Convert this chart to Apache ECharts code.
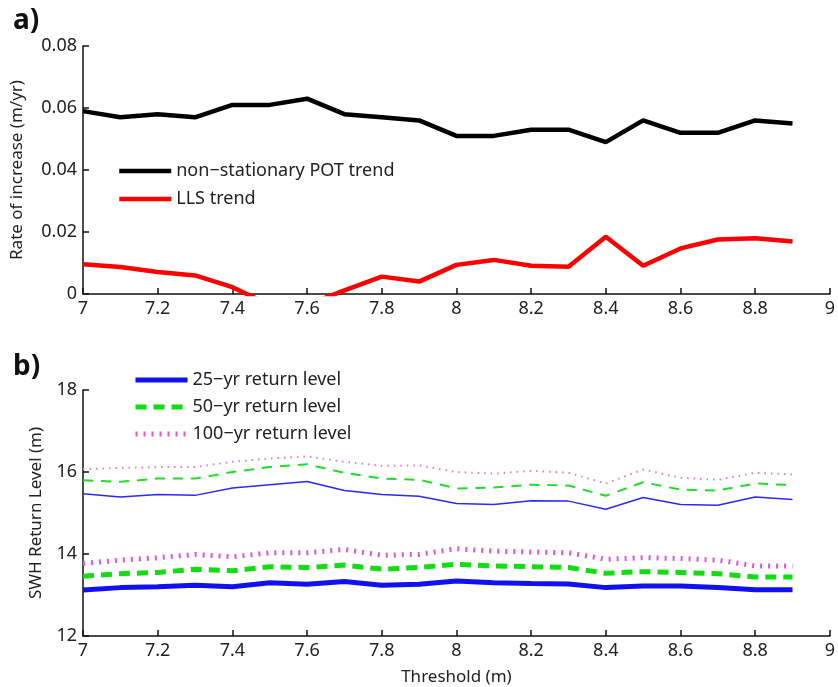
<!DOCTYPE html>
<html>
<head>
<meta charset="utf-8">
<script src="https://cdn.jsdelivr.net/npm/echarts@6/dist/echarts.min.js"></script>
<style>
  html, body { margin: 0; padding: 0; background: #fff; }
  #chart { width: 838px; height: 687px; }
</style>
</head>
<body>
<div id="chart"></div>
<script>
// thresholds (m)
const thresholds = [7.0, 7.1, 7.2, 7.3, 7.4, 7.5, 7.6, 7.7, 7.8, 7.9, 8.0, 8.1, 8.2, 8.3, 8.4, 8.5, 8.6, 8.7, 8.8, 8.9];

// panel a: rate of increase (m/yr)
const potTrend = [0.059, 0.057, 0.058, 0.057, 0.061, 0.061, 0.063, 0.058, 0.057, 0.056, 0.051, 0.051, 0.053, 0.053, 0.049, 0.056, 0.052, 0.052, 0.056, 0.055];
const llsTrend = [0.0096, 0.0087, 0.0071, 0.006, 0.0022, -0.0035, -0.0035, 0.0012, 0.0056, 0.004, 0.0094, 0.011, 0.0091, 0.0088, 0.0185, 0.0091, 0.0147, 0.0176, 0.018, 0.0169];

// panel b: SWH return levels (m), upper (thin) and lower (thick) curves
const rl25Upper = [15.47, 15.39, 15.45, 15.43, 15.61, 15.69, 15.77, 15.55, 15.45, 15.41, 15.23, 15.21, 15.30, 15.29, 15.09, 15.38, 15.21, 15.19, 15.39, 15.33];
const rl50Upper = [15.80, 15.76, 15.84, 15.84, 16.00, 16.12, 16.19, 15.98, 15.84, 15.81, 15.60, 15.62, 15.69, 15.67, 15.42, 15.75, 15.57, 15.55, 15.72, 15.68];
const rl100Upper = [16.07, 16.10, 16.12, 16.12, 16.25, 16.33, 16.38, 16.25, 16.15, 16.16, 16.00, 15.96, 16.03, 15.98, 15.72, 16.06, 15.86, 15.81, 15.98, 15.94];
const rl25Lower = [13.12, 13.18, 13.20, 13.24, 13.20, 13.30, 13.26, 13.33, 13.24, 13.26, 13.34, 13.30, 13.28, 13.27, 13.18, 13.22, 13.22, 13.18, 13.13, 13.13];
const rl50Lower = [13.46, 13.52, 13.55, 13.63, 13.59, 13.69, 13.67, 13.73, 13.63, 13.67, 13.75, 13.71, 13.69, 13.67, 13.53, 13.57, 13.55, 13.52, 13.44, 13.44];
const rl100Lower = [13.77, 13.85, 13.91, 13.99, 13.93, 14.03, 14.03, 14.11, 13.97, 13.99, 14.13, 14.07, 14.05, 14.03, 13.87, 13.91, 13.89, 13.85, 13.71, 13.71];

const xTicks = { min: 7, max: 9, interval: 0.2 };
const yTicksA = { min: 0, max: 0.08, interval: 0.02 };
const yTicksB = { min: 12, max: 18, interval: 2 };

const FONT = 'Noto Sans';
const TXT = '#222';

const pairs = vals => thresholds.map((t, i) => [t, vals[i]]);

const chart = echarts.init(document.getElementById('chart'));

const axisCommon = {
    axisLine: { show: true, lineStyle: { color: '#111', width: 1.5 } },
    axisTick: { show: true, inside: true, length: 6, lineStyle: { color: '#111', width: 1.5 } },
    axisLabel: { color: TXT, fontSize: 18, fontFamily: FONT, margin: 6 },
    splitLine: { show: false }
};

// legend icons: line only, no marker
const legendIcon = {
    itemStyle: { opacity: 0, color: 'transparent', borderWidth: 0 },
    lineStyle: { width: 'inherit', type: 'inherit' }
};

const option = {
    animation: false,
    backgroundColor: '#fff',
    title: [
        { text: 'a)', left: 8, top: 2, textStyle: { fontSize: 28, fontWeight: 'bold', color: '#111', fontFamily: FONT } },
        { text: 'b)', left: 8, top: 348, textStyle: { fontSize: 28, fontWeight: 'bold', color: '#111', fontFamily: FONT } }
    ],
    grid: [
        { left: 83, right: 5, top: 46, height: 248 },
        { left: 83, right: 5, top: 390, height: 247 }
    ],
    legend: [
        Object.assign({
            orient: 'vertical', left: 112, top: 157, itemWidth: 52, itemHeight: 14, itemGap: 10,
            textStyle: { color: TXT, fontSize: 18, fontFamily: FONT },
            data: ['non\u2212stationary POT trend', 'LLS trend']
        }, legendIcon),
        Object.assign({
            orient: 'vertical', left: 128, top: 366, itemWidth: 52, itemHeight: 14, itemGap: 9,
            textStyle: { color: TXT, fontSize: 18, fontFamily: FONT },
            data: ['25\u2212yr return level', '50\u2212yr return level', '100\u2212yr return level']
        }, legendIcon)
    ],
    xAxis: [
        Object.assign({ type: 'value', gridIndex: 0 }, xTicks, axisCommon),
        Object.assign({
            type: 'value', gridIndex: 1,
            name: 'Threshold (m)', nameLocation: 'middle', nameGap: 33,
            nameTextStyle: { color: TXT, fontSize: 17, fontFamily: FONT }
        }, xTicks, axisCommon)
    ],
    yAxis: [
        Object.assign({
            type: 'value', gridIndex: 0,
            name: 'Rate of increase (m/yr)', nameLocation: 'middle', nameGap: 57, nameRotate: 90,
            nameTextStyle: { color: TXT, fontSize: 17, fontFamily: FONT }
        }, yTicksA, axisCommon),
        Object.assign({
            type: 'value', gridIndex: 1,
            name: 'SWH Return Level (m)', nameLocation: 'middle', nameGap: 38, nameRotate: 90,
            nameTextStyle: { color: TXT, fontSize: 17, fontFamily: FONT }
        }, yTicksB, axisCommon)
    ],
    series: [
        {
            name: 'non\u2212stationary POT trend', type: 'line', xAxisIndex: 0, yAxisIndex: 0,
            data: pairs(potTrend), symbol: 'none', clip: true,
            lineStyle: { color: '#000', width: 4.5 }, itemStyle: { color: '#000' }
        },
        {
            name: 'LLS trend', type: 'line', xAxisIndex: 0, yAxisIndex: 0,
            data: pairs(llsTrend), symbol: 'none', clip: true,
            lineStyle: { color: '#ff0000', width: 4.5 }, itemStyle: { color: '#ff0000' }
        },
        {
            name: '25\u2212yr return level', type: 'line', xAxisIndex: 1, yAxisIndex: 1,
            data: pairs(rl25Lower), symbol: 'none',
            lineStyle: { color: '#1010f0', width: 5 }, itemStyle: { color: '#1010f0' }
        },
        {
            name: '50\u2212yr return level', type: 'line', xAxisIndex: 1, yAxisIndex: 1,
            data: pairs(rl50Lower), symbol: 'none',
            lineStyle: { color: '#11dd11', width: 5, type: [11, 7] }, itemStyle: { color: '#11dd11' }
        },
        {
            name: '100\u2212yr return level', type: 'line', xAxisIndex: 1, yAxisIndex: 1,
            data: pairs(rl100Lower), symbol: 'none',
            lineStyle: { color: '#e055d8', width: 5, type: [2, 6] }, itemStyle: { color: '#e055d8' }
        },
        {
            name: '25-yr upper', type: 'line', xAxisIndex: 1, yAxisIndex: 1,
            data: pairs(rl25Upper), symbol: 'none',
            lineStyle: { color: '#2a2aff', width: 1.5 }
        },
        {
            name: '50-yr upper', type: 'line', xAxisIndex: 1, yAxisIndex: 1,
            data: pairs(rl50Upper), symbol: 'none',
            lineStyle: { color: '#22dd22', width: 2, type: [10, 8] }
        },
        {
            name: '100-yr upper', type: 'line', xAxisIndex: 1, yAxisIndex: 1,
            data: pairs(rl100Upper), symbol: 'none',
            lineStyle: { color: '#f07ab8', width: 2, type: [1.5, 5] }
        }
    ]
};

chart.setOption(option);
</script>
</body>
</html>
